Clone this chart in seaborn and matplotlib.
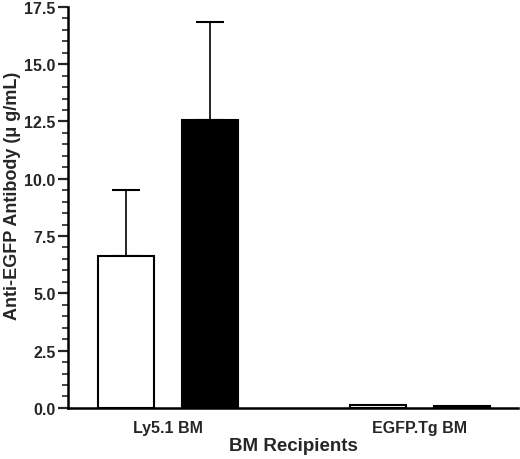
import pandas as pd
import numpy as np
import matplotlib
matplotlib.use('Agg')
import matplotlib.pyplot as plt
import seaborn as sns

# Values
groups = ['Ly5.1 BM', 'EGFP.Tg BM']
series = ['open', 'filled']
open_means = [6.63, 0.15]
filled_means = [12.58, 0.10]
open_sem = [2.9, 0.0]
filled_sem = [4.25, 0.0]

df = pd.DataFrame({
    'group': groups * 2,
    'series': [series[0]] * 2 + [series[1]] * 2,
    'value': open_means + filled_means,
})
errs = {series[0]: open_sem, series[1]: filled_sem}

sns.set_style('white')
plt.rcParams['font.family'] = ['Liberation Sans', 'DejaVu Sans']
plt.rcParams['font.weight'] = 'bold'

fig = plt.figure(figsize=(5.2, 4.6), dpi=100)
ax = fig.add_axes([0.131, 0.111, 0.865, 0.872])

sns.barplot(data=df, x='group', y='value', hue='series', hue_order=series,
            order=groups, palette={'open': 'white', 'filled': 'black'},
            width=0.667, gap=0.333, edgecolor='black', linewidth=1.5,
            errorbar=None, legend=False, ax=ax)

# upward-only error bars at the bar centres
for container, s in zip(ax.containers, series):
    for bar, e in zip(container, errs[s]):
        if e <= 0:
            continue
        xc = bar.get_x() + bar.get_width() / 2
        h = bar.get_height()
        ax.errorbar(xc, h, yerr=[[0], [e]], fmt='none', ecolor='black',
                    elinewidth=1.2, capsize=10, capthick=1.5, zorder=0)

ax.set_xlim(-0.395, 1.39)
ax.set_ylim(0, 17.5)
ax.set_yticks(np.arange(0, 17.6, 2.5))
ax.set_yticks(np.arange(0, 17.6, 0.5), minor=True)
ax.yaxis.set_major_formatter(matplotlib.ticker.FormatStrFormatter('%.1f'))

for side in ['top', 'right']:
    ax.spines[side].set_visible(False)
for side in ['left', 'bottom']:
    ax.spines[side].set_linewidth(1.8)
    ax.spines[side].set_color('black')

ax.tick_params(axis='y', which='major', left=True, length=7, width=1.6,
               labelsize=11.5, pad=2)
ax.tick_params(axis='y', which='minor', left=True, length=4, width=1.2)
ax.tick_params(axis='x', length=0, labelsize=11.5, pad=9)
for lab in ax.get_xticklabels() + ax.get_yticklabels():
    lab.set_fontweight('bold')

ax.set_xlabel('BM Recipients', fontsize=13.5, fontweight='bold', labelpad=1)
ax.set_ylabel('Anti-EGFP Antibody (\u03bc g/mL)', fontsize=13,
              fontweight='bold')
ax.yaxis.set_label_coords(-0.105, 0.53)

fig.savefig('out.png', dpi=100)
